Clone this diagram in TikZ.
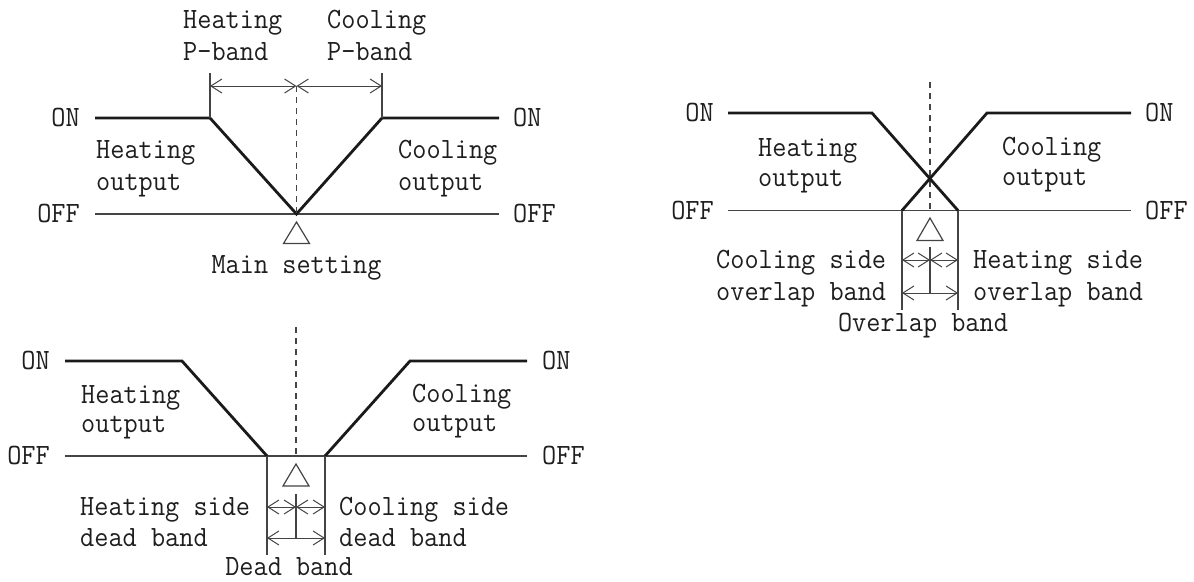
\documentclass[tikz,border=0pt]{standalone}
\usetikzlibrary{arrows.meta}
\definecolor{inkc}{HTML}{1A1A1A}
\definecolor{thinc}{HTML}{444444}
\definecolor{textc}{HTML}{1E1E1E}
\newcommand\stretchtxt[1]{\scalebox{1}[1.07]{#1}}
\tikzset{
  lab/.style={font=\ttfamily\fontsize{27.5}{33}\selectfont, inner sep=0pt, text=textc},
  outl/.style={line width=2.8pt, draw=inkc, line join=miter},
  offl/.style={line width=1.2pt, draw=thinc},
  guide/.style={line width=1.2pt, draw=thinc},
  cdash/.style={line width=1.2pt, draw=thinc, dash pattern=on 6pt off 5pt},
  dimarr/.style={line width=1pt, draw=thinc, {Straight Barb[length=11pt,width=14pt]}-{Straight Barb[length=11pt,width=14pt]}},
  tri/.style={line width=1.2pt, draw=thinc}
}
\begin{document}
\begin{tikzpicture}[x=1pt,y=-1pt]
\useasboundingbox (0,0) rectangle (1194,581);

% ---------------- Top-left: P-band ----------------
\coordinate (t1) at (95,118);
\coordinate (t2) at (210,118);
\coordinate (t3) at (296.5,214);
\coordinate (t4) at (382,118);
\coordinate (t5) at (499,118);
\coordinate (toffa) at (95,214);
\coordinate (toffb) at (499,214);
\coordinate (tda) at (296.5,86);
\coordinate (tva) at (210,73);
\coordinate (tvb) at (382,73);
\coordinate (tal) at (210,86);
\coordinate (tar) at (382,86);
\draw[offl] (toffa) -- (toffb);
\draw[outl] (t1) -- (t2) -- (t3) -- (t4) -- (t5);
\draw[cdash] (tda) -- (t3);
\draw[guide] (tva) -- (t2);
\draw[guide] (tvb) -- (t4);
\draw[dimarr] (tal) -- (tda);
\draw[dimarr] (tda) -- (tar);
\draw[tri] (296.5,222) -- (283.5,243.5) -- (309.5,243.5) -- cycle;
\node[lab, anchor=base east] (tonl) at (80,126.5) {\stretchtxt{ON}};
\node[lab, anchor=base east] (toffl) at (80,222) {\stretchtxt{OFF}};
\node[lab, anchor=base west] (tonr) at (513,126.5) {\stretchtxt{ON}};
\node[lab, anchor=base west] (toffr) at (513,222) {\stretchtxt{OFF}};
\node[lab, anchor=base west] (th1) at (96,158) {\stretchtxt{Heating}};
\node[lab, anchor=base west] (th2) at (96,190) {\stretchtxt{output}};
\node[lab, anchor=base west] (tc1) at (398,158) {\stretchtxt{Cooling}};
\node[lab, anchor=base west] (tc2) at (398,190) {\stretchtxt{output}};
\node[lab, anchor=base west] (thp1) at (183,28) {\stretchtxt{Heating}};
\node[lab, anchor=base west] (thp2) at (183,60) {\stretchtxt{P-band}};
\node[lab, anchor=base west] (tcp1) at (327,28) {\stretchtxt{Cooling}};
\node[lab, anchor=base west] (tcp2) at (327,60) {\stretchtxt{P-band}};
\node[lab, anchor=base] (tmain) at (296.5,273) {\stretchtxt{Main setting}};

% ---------------- Bottom-left: dead band ----------------
\coordinate (b1) at (65,361);
\coordinate (b2) at (182,361);
\coordinate (b3) at (267,456);
\coordinate (b4) at (325,456);
\coordinate (b5) at (410,361);
\coordinate (b6) at (527,361);
\coordinate (boffa) at (65,456);
\coordinate (boffb) at (527,456);
\coordinate (bmid) at (296,456);
\coordinate (bda) at (296,327);
\coordinate (bvl) at (267,555);
\coordinate (bvr) at (325,555);
\coordinate (bul) at (267,507);
\coordinate (bum) at (296,507);
\coordinate (bur) at (325,507);
\coordinate (bll) at (267,538);
\coordinate (blm) at (296,538);
\coordinate (blr) at (325,538);
\coordinate (bct) at (296,494);
\draw[offl] (boffa) -- (boffb);
\draw[outl] (b1) -- (b2) -- (b3);
\draw[outl] (b4) -- (b5) -- (b6);
\draw[cdash] (bda) -- (bmid);
\draw[guide] (b3) -- (bvl);
\draw[guide] (b4) -- (bvr);
\draw[dimarr] (bul) -- (bum);
\draw[dimarr] (bum) -- (bur);
\draw[dimarr] (bll) -- (blr);
\draw[guide] (bct) -- (blm);
\draw[tri] (296,464) -- (283,486) -- (309,486) -- cycle;
\node[lab, anchor=base east] (bonl) at (50,369.5) {\stretchtxt{ON}};
\node[lab, anchor=base east] (boffl) at (50,464.5) {\stretchtxt{OFF}};
\node[lab, anchor=base west] (bonr) at (542,369.5) {\stretchtxt{ON}};
\node[lab, anchor=base west] (boffr) at (542,464.5) {\stretchtxt{OFF}};
\node[lab, anchor=base west] (bh1) at (81,403) {\stretchtxt{Heating}};
\node[lab, anchor=base west] (bh2) at (81,432) {\stretchtxt{output}};
\node[lab, anchor=base west] (bc1) at (412,402) {\stretchtxt{Cooling}};
\node[lab, anchor=base west] (bc2) at (412,431) {\stretchtxt{output}};
\node[lab, anchor=base west] (bhs1) at (80,515) {\stretchtxt{Heating side}};
\node[lab, anchor=base west] (bhs2) at (80,546) {\stretchtxt{dead band}};
\node[lab, anchor=base west] (bcs1) at (339,515) {\stretchtxt{Cooling side}};
\node[lab, anchor=base west] (bcs2) at (339,546) {\stretchtxt{dead band}};
\node[lab, anchor=base] (bdead) at (289,575) {\stretchtxt{Dead band}};

% ---------------- Right: overlap band ----------------
\coordinate (r1) at (728,113);
\coordinate (r2) at (872,113);
\coordinate (r3) at (958,210.5);
\coordinate (r4) at (902,210.5);
\coordinate (r5) at (987,113);
\coordinate (r6) at (1131,113);
\coordinate (roffa) at (728,210.5);
\coordinate (roffb) at (1131,210.5);
\coordinate (rmid) at (930,210.5);
\coordinate (rda) at (930,82);
\coordinate (rvl) at (902,310);
\coordinate (rvr) at (958,310);
\coordinate (rul) at (902,260);
\coordinate (rum) at (930,260);
\coordinate (rur) at (958,260);
\coordinate (rll) at (902,293);
\coordinate (rlm) at (930,293);
\coordinate (rlr) at (958,293);
\coordinate (rct) at (930,247);
\draw[offl] (roffa) -- (roffb);
\draw[cdash] (rda) -- (rmid);
\draw[outl] (r1) -- (r2) -- (r3);
\draw[outl] (r4) -- (r5) -- (r6);
\draw[guide] (r4) -- (rvl);
\draw[guide] (r3) -- (rvr);
\draw[dimarr] (rul) -- (rum);
\draw[dimarr] (rum) -- (rur);
\draw[dimarr] (rll) -- (rlr);
\draw[guide] (rct) -- (rlm);
\draw[tri] (930,218) -- (917,240.5) -- (943,240.5) -- cycle;
\node[lab, anchor=base east] (ronl) at (714,121.5) {\stretchtxt{ON}};
\node[lab, anchor=base east] (roffl) at (714,219) {\stretchtxt{OFF}};
\node[lab, anchor=base west] (ronr) at (1145,121.5) {\stretchtxt{ON}};
\node[lab, anchor=base west] (roffr) at (1145,219) {\stretchtxt{OFF}};
\node[lab, anchor=base west] (rh1) at (758,156) {\stretchtxt{Heating}};
\node[lab, anchor=base west] (rh2) at (758,186) {\stretchtxt{output}};
\node[lab, anchor=base west] (rc1) at (1002,155) {\stretchtxt{Cooling}};
\node[lab, anchor=base west] (rc2) at (1002,185) {\stretchtxt{output}};
\node[lab, anchor=base west] (rcs1) at (716,268) {\stretchtxt{Cooling side}};
\node[lab, anchor=base west] (rcs2) at (716,300) {\stretchtxt{overlap band}};
\node[lab, anchor=base west] (rhs1) at (973,268) {\stretchtxt{Heating side}};
\node[lab, anchor=base west] (rhs2) at (973,300) {\stretchtxt{overlap band}};
\node[lab, anchor=base] (rover) at (923,331) {\stretchtxt{Overlap band}};
\end{tikzpicture}
\end{document}
